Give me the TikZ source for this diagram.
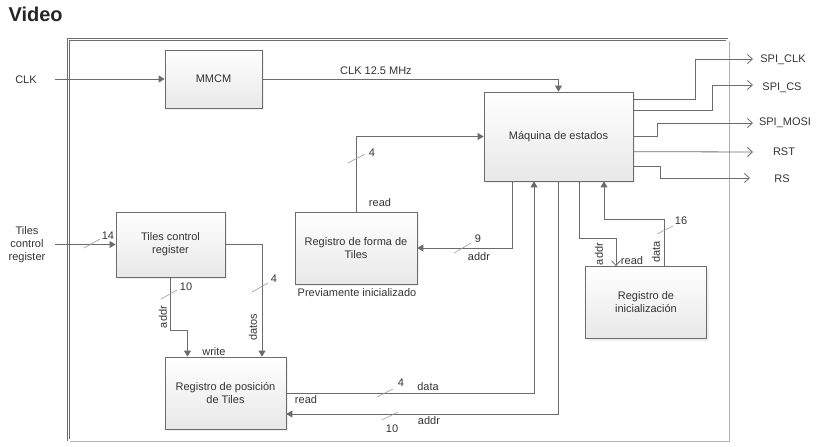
\documentclass[tikz,border=0pt]{standalone}
\usepackage{fontspec}
\setmainfont{Liberation Sans}
\usetikzlibrary{arrows.meta, shadows}
\definecolor{linegray}{HTML}{6B6B6B}
\definecolor{txtgray}{HTML}{333333}
\definecolor{boxbot}{HTML}{E8E8E8}

\begin{document}
\begin{tikzpicture}[x=1pt, y=-1pt, font=\fontsize{11}{13}\selectfont,
    every node/.style={text=txtgray},
    box/.style={draw=linegray, line width=0.7pt, top color=white, bottom color=boxbot, align=center, inner sep=0pt,
        drop shadow={opacity=0.12, shadow xshift=2pt, shadow yshift=-2pt}},
    wire/.style={draw=linegray, line width=0.8pt},
    tri/.style={-{Triangle[length=6pt, width=7pt]}},
    open/.style={-{Straight Barb[length=5pt, width=9pt, line width=0.8pt]}},
    bus/.style={draw=gray!80, line width=0.6pt}]
    \useasboundingbox (0,0) rectangle (831,447);
    \node[anchor=west, font=\bfseries\fontsize{20}{24}\selectfont, text=black!85] (title) at (5,14) {Video};
    \draw[draw=gray!60, line width=1.2pt] (729.5,41) -- (729.5,441.5) -- (70,441.5);
    \draw[draw=linegray, line width=0.8pt, double, double distance=1.2pt] (68.5,39.5) rectangle (727,440);
    \node[box, minimum width=97, minimum height=58] (mmcm) at (213.5,79) {MMCM};
    \node[box, minimum width=149, minimum height=89] (maq) at (558.5,136.5) {Máquina de estados};
    \node[box, minimum width=109, minimum height=65] (tcr) at (170.5,244.5) {Tiles control\\register};
    \node[box, minimum width=122, minimum height=72] (forma) at (356,248) {Registro de forma de\\Tiles};
    \node[box, minimum width=121, minimum height=72] (pos) at (225.5,393) {Registro de posición\\de Tiles};
    \node[box, minimum width=121, minimum height=72] (inic) at (646,302.5) {Registro de\\inicialización};
    \node (clk) at (26,80) {CLK};
    \node[align=center] (tiles) at (27,245) {Tiles\\control\\register};
    \node (previo) at (357,293) {Previamente inicializado};
    \coordinate (clkin) at (55,79);
    \coordinate (tilesin) at (55,244.5);
    \draw[wire, tri] (clkin) -- (mmcm.west);
    \draw[wire, tri] (mmcm.east) -| (maq.north);
    \node (clk125) at (376,71) {CLK 12.5 MHz};
    \coordinate (spiclk) at (753,59);
    \coordinate (spics) at (753,85);
    \coordinate (spimosi) at (753,123);
    \coordinate (rst) at (753,152);
    \coordinate (rs) at (750,178);
    \draw[wire, open] ([yshift=-8pt]maq.north east) -- ++(62,0) |- (spiclk);
    \draw[wire, open] ([yshift=-19pt]maq.north east) -- ++(79,0) |- (spics);
    \draw[wire, open] (maq.east) -- ++(24,0) |- (spimosi);
    \draw[wire, open] ([yshift=-60pt]maq.north east) -- (rst);
    \draw[wire, open] ([yshift=-75pt]maq.north east) -- ++(27,0) |- (rs);
    \node (lspiclk) at (783,60) {SPI\_CLK};
    \node (lspics) at (782,88) {SPI\_CS};
    \node (lspimosi) at (785,123) {SPI\_MOSI};
    \node (lrst) at (784,152) {RST};
    \node (lrs) at (782,179) {RS};
    \draw[wire, tri] (forma.north) |- (maq.west);
    \draw[bus] (348,163) -- (365,154);
    \node (n4a) at (372,153) {4};
    \node (reada) at (380,203) {read};
    \draw[wire, tri] ([xshift=-46.5pt]maq.south) |- (forma.east);
    \draw[bus] (454,253) -- (471,243);
    \node (n9) at (478,239) {9};
    \node (addra) at (479,257) {addr};
    \draw[wire, tri] (tilesin) -- (tcr.west);
    \draw[bus] (84,248) -- (100,239);
    \node (n14) at (108,236) {14};
    \draw[wire, tri] (tcr.south) -- ++(0,53) -| ([xshift=-38pt]pos.north);
    \draw[bus] (161,299) -- (177,290);
    \node (n10a) at (186,287) {10};
    \node[rotate=90] (addrb) at (163,317) {addr};
    \node (write) at (214,352) {write};
    \draw[wire, tri] (tcr.east) -| ([xshift=36.5pt]pos.north);
    \draw[bus] (252,292) -- (268,283);
    \node (n4b) at (274,279) {4};
    \node[rotate=90] (datos) at (253,327) {datos};
    \draw[wire, tri] (pos.east) -| ([xshift=-24.5pt]maq.south);
    \draw[bus] (377,397) -- (393,389);
    \node (n4c) at (401,383) {4};
    \node (datac) at (428,387) {data};
    \node (readc) at (306,400) {read};
    \draw[wire, tri] (maq.south) |- ([yshift=-21pt]pos.east);
    \draw[bus] (382,420) -- (398,412);
    \node (n10b) at (392,429) {10};
    \node (addrc) at (429,421) {addr};
    \draw[wire, open] ([xshift=20.5pt]maq.south) -- ++(0,57) -| ([xshift=-30pt]inic.north);
    \node[rotate=90] (addrd) at (599,254) {addr};
    \node (readd) at (632,261) {read};
    \draw[wire, tri] ([xshift=18pt]inic.north) -- ++(0,-47) -| ([xshift=45.5pt]maq.south);
    \draw[bus] (657,234) -- (673,226);
    \node (n16) at (681,221) {16};
    \node[rotate=90] (datad) at (656,252) {data};
\end{tikzpicture}
\end{document}
